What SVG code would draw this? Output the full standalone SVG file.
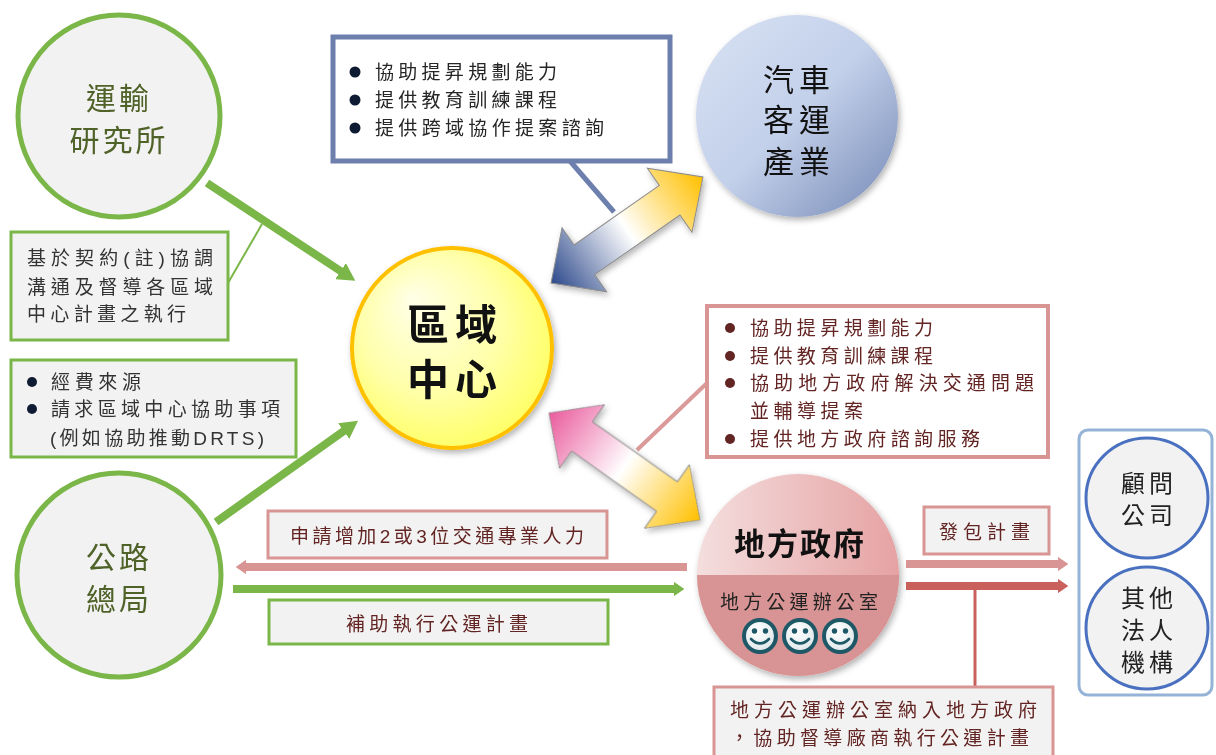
<svg xmlns="http://www.w3.org/2000/svg" width="1216" height="755" viewBox="0 0 1216 755">
<defs>
<style>
.t{font-family:"Liberation Sans","Noto Sans CJK TC","Noto Sans CJK SC",sans-serif;}
.olive{fill:#4F6228;font-size:30px;}
.gray{fill:#333333;font-size:19px;}
.dk{fill:#262626;font-size:19px;}
.red{fill:#632523;font-size:19px;}
.blk{fill:#111111;}
.gcirc{fill:#F2F2F2;stroke:#7AB648;stroke-width:5;}
.gbox{fill:#F2F2F2;stroke:#7AB648;stroke-width:3;}
.pbox{fill:#F2F2F2;stroke:#D99594;stroke-width:3;}
.bcirc{fill:#F2F2F2;stroke:#4A70C0;stroke-width:3;}
.dbl{stroke:#8C8C8C;stroke-width:1;}
</style>
<marker id="mgreen" viewBox="0 0 10 10" refX="3" refY="5" markerWidth="2.2" markerHeight="2.4" orient="auto" markerUnits="strokeWidth" preserveAspectRatio="none">
<path d="M0,0 L10,5 L0,10 z" fill="#7AB648"/>
</marker>
<marker id="msg" viewBox="0 0 10 10" refX="2" refY="5" markerWidth="1.3" markerHeight="1.8" orient="auto" markerUnits="strokeWidth" preserveAspectRatio="none">
<path d="M0,0 L10,5 L0,10 z" fill="#7AB648"/>
</marker>
<marker id="msp" viewBox="0 0 10 10" refX="2" refY="5" markerWidth="1.3" markerHeight="1.8" orient="auto" markerUnits="strokeWidth" preserveAspectRatio="none">
<path d="M0,0 L10,5 L0,10 z" fill="#D99594"/>
</marker>
<marker id="msr" viewBox="0 0 10 10" refX="2" refY="5" markerWidth="1.3" markerHeight="1.8" orient="auto" markerUnits="strokeWidth" preserveAspectRatio="none">
<path d="M0,0 L10,5 L0,10 z" fill="#C9605C"/>
</marker>
<filter id="sh" x="-20%" y="-20%" width="140%" height="140%">
<feDropShadow dx="2" dy="3" stdDeviation="3" flood-color="#000" flood-opacity="0.3"/>
</filter>
<radialGradient id="gYel" cx="0.45" cy="0.45" r="0.6" fx="0.3" fy="0.25">
<stop offset="0" stop-color="#FFFFE8"/>
<stop offset="0.6" stop-color="#FFFFA8"/>
<stop offset="1" stop-color="#FFFF60"/>
</radialGradient>
<linearGradient id="gBus" x1="0" y1="0" x2="1" y2="1">
<stop offset="0" stop-color="#D8E2F3"/>
<stop offset="0.5" stop-color="#C3D0EA"/>
<stop offset="1" stop-color="#7488B5"/>
</linearGradient>
<linearGradient id="gGov" x1="0" y1="0" x2="1" y2="0">
<stop offset="0" stop-color="#F4DEDE"/>
<stop offset="1" stop-color="#E6A2A3"/>
</linearGradient>
<linearGradient id="gArrBY" gradientUnits="userSpaceOnUse" x1="-92" y1="0" x2="92" y2="0">
<stop offset="0" stop-color="#2E4A8C"/>
<stop offset="0.5" stop-color="#FFFFFF"/>
<stop offset="1" stop-color="#FFC000"/>
</linearGradient>
<linearGradient id="gArrPY" gradientUnits="userSpaceOnUse" x1="-92" y1="0" x2="92" y2="0">
<stop offset="0" stop-color="#EA5C9E"/>
<stop offset="0.5" stop-color="#FFFFFF"/>
<stop offset="1" stop-color="#FFC000"/>
</linearGradient>
<radialGradient id="gFace" cx="0.4" cy="0.35" r="0.7">
<stop offset="0" stop-color="#FFFFFF"/>
<stop offset="1" stop-color="#DCE6E8"/>
</radialGradient>
<clipPath id="cGov"><circle cx="798" cy="575" r="101"/></clipPath>
<g id="smiley">
<circle r="16" fill="url(#gFace)" stroke="#1E5866" stroke-width="4"/>
<circle cx="-5.5" cy="-5" r="2.7" fill="#1E5866"/>
<circle cx="5.5" cy="-5" r="2.7" fill="#1E5866"/>
<path d="M-9,3 Q0,12 9,3" fill="none" stroke="#1E5866" stroke-width="2.6" stroke-linecap="round"/>
</g>
</defs>
<rect width="1216" height="755" fill="#FFFFFF"/>

<g id="connectors">
<line x1="207" y1="183" x2="345" y2="274" stroke="#7AB648" stroke-width="8" marker-end="url(#mgreen)"/>
<line x1="216" y1="522" x2="348" y2="428" stroke="#7AB648" stroke-width="8" marker-end="url(#mgreen)"/>
<line x1="228" y1="283" x2="262" y2="224" stroke="#7AB648" stroke-width="2"/>
<line x1="570" y1="161" x2="614" y2="212" stroke="#6D7FAD" stroke-width="5"/>
<line x1="707" y1="383" x2="637" y2="450" stroke="#DA9A99" stroke-width="4"/>
<line x1="687" y1="567" x2="244" y2="567" stroke="#D99594" stroke-width="8" marker-end="url(#msp)"/>
<line x1="233" y1="589" x2="676" y2="589" stroke="#7AB648" stroke-width="8" marker-end="url(#msg)"/>
<line x1="906" y1="564" x2="1060" y2="564" stroke="#D99594" stroke-width="8" marker-end="url(#msp)"/>
<line x1="906" y1="586" x2="1060" y2="586" stroke="#C9605C" stroke-width="8" marker-end="url(#msr)"/>
<line x1="975" y1="586" x2="975" y2="688" stroke="#C9605C" stroke-width="3"/>
<g filter="url(#sh)">
<polygon class="dbl" transform="translate(627,230) rotate(-34.9)" fill="url(#gArrBY)" points="-92.6,0 -52,-39 -52,-18 52,-18 52,-39 92.6,0 52,39 52,18 -52,18 -52,39"/>
<polygon class="dbl" transform="translate(624.5,466.5) rotate(35.3)" fill="url(#gArrPY)" points="-92.6,0 -52,-39 -52,-18 52,-18 52,-39 92.6,0 52,39 52,18 -52,18 -52,39"/>
</g>
</g>

<g id="node-iot">
<circle class="gcirc" cx="119" cy="116" r="101"/>
<text class="t olive" text-anchor="middle" letter-spacing="3"><tspan x="119" y="109">運輸</tspan><tspan x="119" y="151">研究所</tspan></text>
</g>

<g id="label-contract">
<rect class="gbox" x="11" y="232" width="217" height="108"/>
<text class="t gray" x="27" y="265" textLength="186" lengthAdjust="spacing">基於契約(註)協調</text>
<text class="t gray" x="27" y="294" textLength="186" lengthAdjust="spacing">溝通及督導各區域</text>
<text class="t gray" x="27" y="321" textLength="159" lengthAdjust="spacing">中心計畫之執行</text>
</g>

<g id="label-funding">
<rect class="gbox" x="11" y="360" width="285" height="97"/>
<circle cx="32" cy="382" r="5" fill="#0F1B33"/>
<circle cx="32" cy="409" r="5" fill="#0F1B33"/>
<text class="t gray" x="51" y="389" textLength="90" lengthAdjust="spacing">經費來源</text>
<text class="t gray" x="51" y="416" textLength="229" lengthAdjust="spacing">請求區域中心協助事項</text>
<text class="t gray" x="50" y="445" textLength="214" lengthAdjust="spacing">(例如協助推動DRTS)</text>
</g>

<g id="node-hwy">
<circle class="gcirc" cx="119" cy="575" r="102"/>
<text class="t olive" text-anchor="middle" letter-spacing="3"><tspan x="119" y="568">公路</tspan><tspan x="119" y="610">總局</tspan></text>
</g>

<g id="label-bus-services">
<rect x="333" y="37" width="337" height="124" fill="#FFFFFF" stroke="#6D7FAD" stroke-width="5"/>
<circle cx="355" cy="72" r="5.5" fill="#0F1B33"/>
<circle cx="355" cy="100" r="5.5" fill="#0F1B33"/>
<circle cx="355" cy="128" r="5.5" fill="#0F1B33"/>
<text class="t dk" x="375" y="79" textLength="182" lengthAdjust="spacing">協助提昇規劃能力</text>
<text class="t dk" x="375" y="107" textLength="182" lengthAdjust="spacing">提供教育訓練課程</text>
<text class="t dk" x="375" y="135" textLength="229" lengthAdjust="spacing">提供跨域協作提案諮詢</text>
</g>

<g id="node-bus">
<circle cx="797" cy="116" r="101" fill="url(#gBus)" filter="url(#sh)"/>
<text class="t blk" text-anchor="middle" font-size="31" letter-spacing="5"><tspan x="799" y="91">汽車</tspan><tspan x="799" y="131">客運</tspan><tspan x="799" y="173">產業</tspan></text>
</g>

<g id="node-center">
<circle cx="452" cy="348" r="100" fill="url(#gYel)" stroke="#FFC000" stroke-width="4" filter="url(#sh)"/>
<text class="t blk" text-anchor="middle" font-size="42" font-weight="bold" letter-spacing="6"><tspan x="455" y="340">區域</tspan><tspan x="455" y="395">中心</tspan></text>
</g>

<g id="label-gov-services">
<rect x="707" y="306" width="341" height="151" fill="#FFFFFF" stroke="#D99594" stroke-width="4"/>
<circle cx="730" cy="328" r="5" fill="#632523"/>
<circle cx="730" cy="356" r="5" fill="#632523"/>
<circle cx="730" cy="383" r="5" fill="#632523"/>
<circle cx="730" cy="439" r="5" fill="#632523"/>
<text class="t red" font-size="20" x="750" y="335" textLength="183" lengthAdjust="spacing">協助提昇規劃能力</text>
<text class="t red" font-size="20" x="750" y="363" textLength="183" lengthAdjust="spacing">提供教育訓練課程</text>
<text class="t red" font-size="20" x="750" y="390" textLength="284" lengthAdjust="spacing">協助地方政府解決交通問題</text>
<text class="t red" font-size="20" x="750" y="418" textLength="113" lengthAdjust="spacing">並輔導提案</text>
<text class="t red" font-size="20" x="750" y="446" textLength="230" lengthAdjust="spacing">提供地方政府諮詢服務</text>
</g>

<g id="label-apply">
<rect class="pbox" x="268" y="511" width="339" height="47"/>
<text class="t red" x="290" y="543" textLength="294" lengthAdjust="spacing">申請增加2或3位交通專業人力</text>
</g>

<g id="label-subsidy">
<rect class="gbox" x="269" y="600" width="339" height="44"/>
<text class="t red" x="346" y="631" textLength="182" lengthAdjust="spacing">補助執行公運計畫</text>
</g>

<g id="node-local-gov">
<g filter="url(#sh)">
<circle cx="798" cy="575" r="101" fill="url(#gGov)"/>
<rect x="690" y="575" width="220" height="110" fill="#D89494" clip-path="url(#cGov)"/>
</g>
<text class="t blk" x="800" y="555" text-anchor="middle" font-size="31" font-weight="bold" letter-spacing="2">地方政府</text>
<text class="t" x="720" y="609" font-size="19" fill="#222222" textLength="158" lengthAdjust="spacing">地方公運辦公室</text>
<use href="#smiley" x="760" y="636"/>
<use href="#smiley" x="800" y="636"/>
<use href="#smiley" x="840" y="636"/>
</g>

<g id="label-contract-out">
<rect class="pbox" x="924" y="507" width="125" height="47"/>
<text class="t red" x="939" y="539" textLength="91" lengthAdjust="spacing">發包計畫</text>
</g>

<g id="label-office">
<rect class="pbox" x="714" y="687" width="339" height="80"/>
<text class="t red" x="730" y="717" textLength="307" lengthAdjust="spacing">地方公運辦公室納入地方政府</text>
<text class="t red" x="730" y="745" textLength="299" lengthAdjust="spacing">，協助督導廠商執行公運計畫</text>
</g>

<g id="group-contractors">
<rect x="1079" y="430" width="133" height="265" rx="9" fill="#FFFFFF" stroke="#95B3D7" stroke-width="3"/>
</g>

<g id="node-consultant">
<ellipse class="bcirc" cx="1147" cy="498" rx="61" ry="60"/>
<text class="t" text-anchor="middle" font-size="24" fill="#222222" letter-spacing="4"><tspan x="1149" y="492">顧問</tspan><tspan x="1149" y="524">公司</tspan></text>
</g>

<g id="node-other">
<ellipse class="bcirc" cx="1147" cy="628" rx="61" ry="61"/>
<text class="t" text-anchor="middle" font-size="24" fill="#222222" letter-spacing="4"><tspan x="1149" y="607">其他</tspan><tspan x="1149" y="639">法人</tspan><tspan x="1149" y="671">機構</tspan></text>
</g>
</svg>
